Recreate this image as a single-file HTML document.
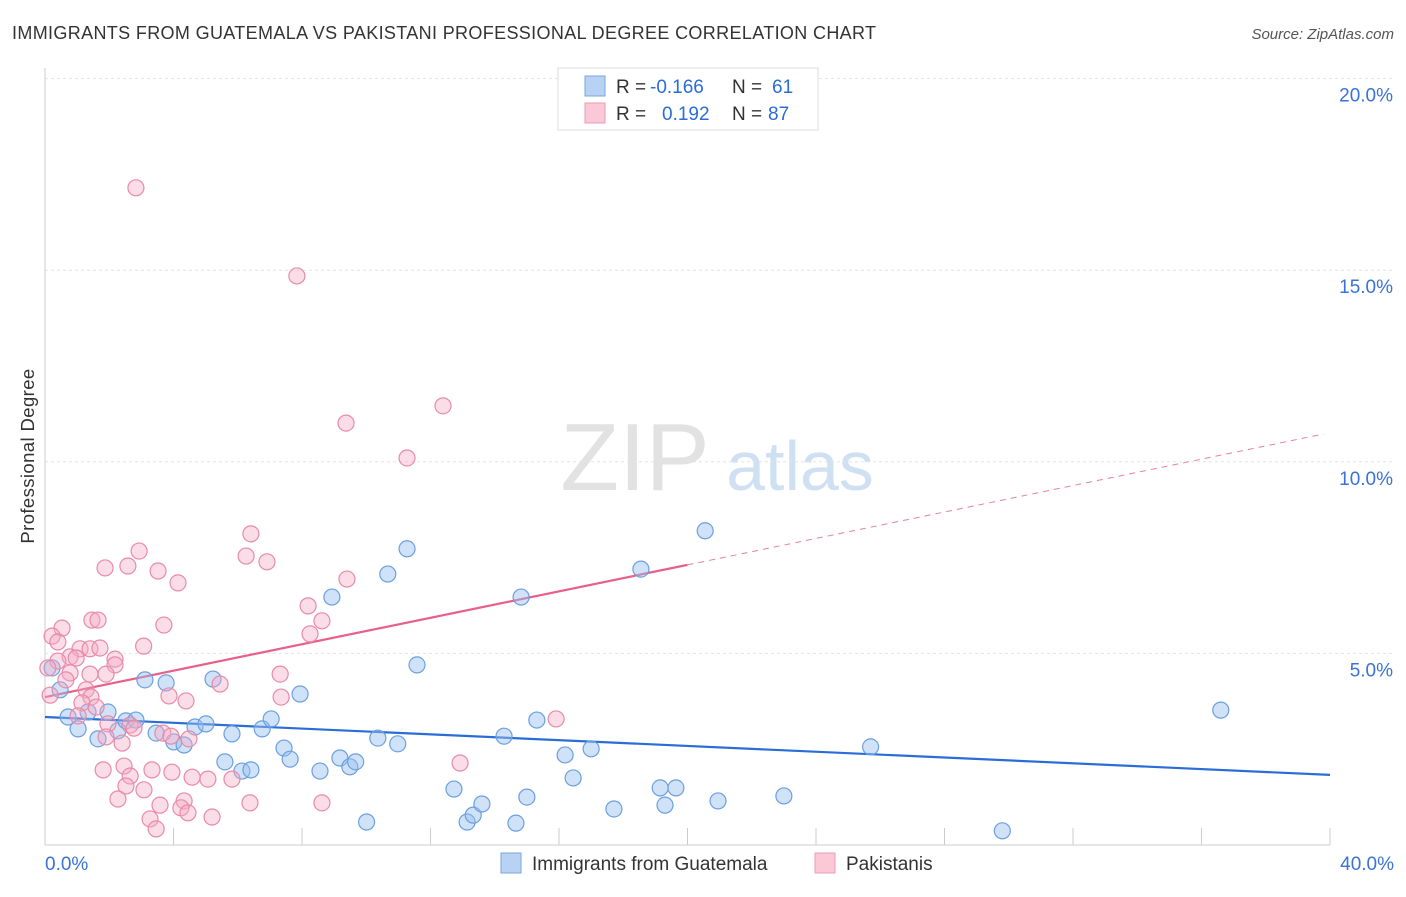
<!DOCTYPE html>
<html><head><meta charset="utf-8"><style>
body{margin:0;background:#fff;font-family:"Liberation Sans",sans-serif;}
svg text{font-family:"Liberation Sans",sans-serif;}
</style></head><body>
<svg id="chart" width="1406" height="892" xmlns="http://www.w3.org/2000/svg">
<text x="12" y="39" font-size="18" letter-spacing="0.35" fill="#333">IMMIGRANTS FROM GUATEMALA VS PAKISTANI PROFESSIONAL DEGREE CORRELATION CHART</text>
<text x="1394" y="39" font-size="15" fill="#555" text-anchor="end" font-style="italic">Source: ZipAtlas.com</text>
<text x="34" y="456" font-size="18.5" letter-spacing="0.4" fill="#333" text-anchor="middle" transform="rotate(-90 34 456)">Professional Degree</text>
<g><text x="635" y="490" font-size="96" fill="#e2e2e2" text-anchor="middle" font-family="Liberation Serif">ZIP</text><text x="800" y="490" font-size="70" fill="#cfe0f3" text-anchor="middle">atlas</text></g>
<g id="grid"></g><g id="axes"></g><g id="trends"></g><g id="points"></g>
<g>
<rect x="558" y="68" width="260" height="62" fill="#fff" stroke="#ddd"/>
<rect x="585" y="76" width="20" height="20" fill="#b8d2f4" stroke="#7aa6e0"/>
<text x="616" y="93" font-size="19" fill="#333">R =</text><text x="650" y="93" font-size="19" fill="#2a6dd6">-0.166</text>
<text x="732" y="93" font-size="19" fill="#333">N =</text><text x="772" y="93" font-size="19" fill="#2a6dd6">61</text>
<rect x="585" y="103" width="20" height="20" fill="#fac8d6" stroke="#ec9ab4"/>
<text x="616" y="120" font-size="19" fill="#333">R =</text><text x="662" y="120" font-size="19" fill="#2a6dd6">0.192</text>
<text x="732" y="120" font-size="19" fill="#333">N =</text><text x="768" y="120" font-size="19" fill="#2a6dd6">87</text>
</g>
<g>
<rect x="501" y="853" width="20" height="20" fill="#b8d2f4" stroke="#7aa6e0"/>
<text x="532" y="870" font-size="19" fill="#333">Immigrants from Guatemala</text>
<rect x="815" y="853" width="20" height="20" fill="#fac8d6" stroke="#ec9ab4"/>
<text x="846" y="870" font-size="19" fill="#333">Pakistanis</text>
</g>
</svg>
<script>
const yTicks=[5,10,15,20];
const yTickLabels=["5.0%","10.0%","15.0%","20.0%"];
const xTicks=[0,4,8,12,16,20,24,28,32,36,40];
const blueX=[0.22,0.47,0.72,1.03,1.34,1.65,1.96,2.27,2.52,2.83,3.11,3.46,3.77,4.01,4.33,4.67,5.01,5.23,5.6,5.82,6.13,6.41,6.76,7.04,7.44,7.63,7.94,8.56,8.93,9.18,9.49,9.67,10.01,10.36,10.67,10.98,11.27,11.58,12.73,13.14,13.33,13.6,14.29,14.66,14.82,15.0,15.31,16.19,16.44,17.0,17.71,18.55,19.15,19.3,19.64,20.55,20.95,23.0,25.7,29.8,36.6];
const blueY=[4.62,4.05,3.34,3.03,3.47,2.77,3.47,2.98,3.24,3.26,4.31,2.92,4.23,2.69,2.61,3.08,3.16,4.33,2.17,2.9,1.93,1.96,3.03,3.29,2.53,2.24,3.94,1.93,6.47,2.27,2.04,2.17,0.6,2.79,7.07,2.64,7.73,4.7,1.46,0.6,0.78,1.07,2.84,0.57,6.47,1.25,3.26,2.35,1.75,2.51,0.94,7.2,1.49,1.04,1.49,8.2,1.15,1.28,2.56,0.37,3.52];
const pinkX=[2.83,7.84,12.39,9.37,11.27,6.41,2.93,6.26,6.91,1.87,2.58,3.52,4.14,9.4,8.19,1.46,1.65,3.7,8.62,0.53,0.22,0.4,8.25,3.07,1.09,1.4,1.71,0.78,0.97,2.18,0.4,2.18,0.09,0.78,1.4,1.9,7.32,0.65,5.45,1.28,1.43,3.86,7.35,4.39,0.16,1.15,1.59,1.03,1.96,15.91,2.65,1.9,2.4,2.77,3.67,3.92,4.48,12.92,1.81,2.46,3.33,2.65,3.95,4.58,5.07,5.82,2.52,3.08,2.27,4.33,3.58,6.38,8.62,4.23,4.45,5.2,3.27,3.46];
const pinkY=[17.15,14.85,11.46,11.01,10.1,8.12,7.67,7.54,7.39,7.23,7.28,7.15,6.84,6.94,6.24,5.87,5.87,5.74,5.85,5.66,5.45,5.3,5.51,5.19,5.12,5.12,5.14,4.91,4.88,4.85,4.8,4.7,4.62,4.49,4.46,4.46,4.46,4.31,4.2,4.05,3.86,3.89,3.86,3.76,3.91,3.71,3.6,3.37,3.16,3.29,3.13,2.82,2.66,3.05,2.92,2.84,2.77,2.14,1.96,2.06,1.96,1.8,1.9,1.77,1.72,1.72,1.54,1.44,1.2,1.15,1.04,1.1,1.1,0.97,0.84,0.73,0.68,0.42];
const blueTrend=[3.34,1.83];
const pinkTrend=[3.86,0.1725];
const NS="http://www.w3.org/2000/svg";
const X=v=>45+v*1285/40, Y=v=>845-v*191.6/5;
function mk(tag,attrs,parent){const e=document.createElementNS(NS,tag);for(const k in attrs)e.setAttribute(k,attrs[k]);document.getElementById(parent).appendChild(e);return e;}
yTicks.forEach((t,i)=>{
 const g=mk('line',{x1:45,x2:1394,y1:Y(t),y2:Y(t),stroke:'#e4e4e4','stroke-dasharray':'3,3'},'grid');
 
 
 const l=mk('text',{x:1393,y:Y(t)+23,'font-size':19,fill:'#3a72d8','text-anchor':'end'},'grid');l.textContent=yTickLabels[i];
 
 
});
const ya=mk('line',{x1:45,x2:45,y1:68,y2:845,stroke:'#ccc'},'axes');


const xa=mk('line',{x1:45,x2:1330,y1:845,y2:845,stroke:'#ccc'},'axes');


xTicks.forEach(t=>{const e=mk('line',{x1:X(t),x2:X(t),y1:828,y2:845,stroke:'#ccc'},'axes');
 
 });
let a=mk('text',{x:45,y:870,'font-size':19,fill:'#3a72d8'},'axes');a.textContent='0.0%';


a=mk('text',{x:1394,y:870,'font-size':19,fill:'#3a72d8','text-anchor':'end'},'axes');a.textContent='40.0%';


blueX.forEach((x,i)=>{const c=mk('circle',{cx:X(x),cy:Y(blueY[i]),r:8,fill:'rgba(150,190,240,0.45)',stroke:'#6a9fe0','stroke-width':1.2},'points');
 
 });
pinkX.forEach((x,i)=>{const c=mk('circle',{cx:X(x),cy:Y(pinkY[i]),r:8,fill:'rgba(245,170,195,0.4)',stroke:'#e88aa8','stroke-width':1.2},'points');
 
 });
let t=mk('line',{x1:X(0),y1:Y(blueTrend[0]),x2:X(40),y2:Y(blueTrend[1]),stroke:'#2a6dd6','stroke-width':2.2},'trends');


t=mk('line',{x1:X(0),y1:Y(pinkTrend[0]),x2:X(20),y2:Y(pinkTrend[0]+pinkTrend[1]*20),stroke:'#e8608a','stroke-width':2.2},'trends');


t=mk('line',{x1:X(20),y1:Y(pinkTrend[0]+pinkTrend[1]*20),x2:X(39.8),y2:Y(pinkTrend[0]+pinkTrend[1]*39.8),stroke:'#e8809f','stroke-width':1,'stroke-dasharray':'6,5'},'trends');


</script>
</body></html>
